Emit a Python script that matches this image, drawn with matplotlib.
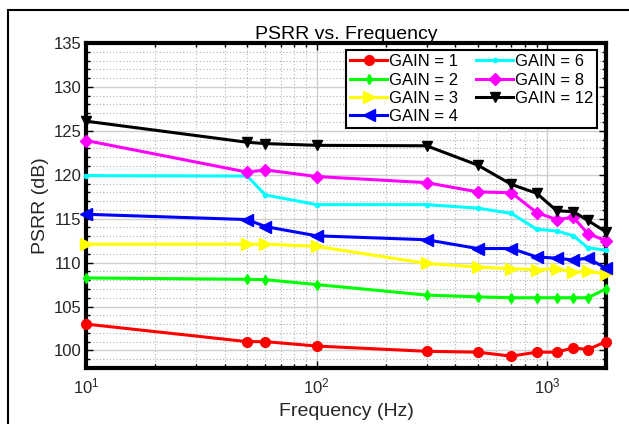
import matplotlib
matplotlib.use("Agg")
import matplotlib.pyplot as plt
from matplotlib.patches import Rectangle
from matplotlib.ticker import MultipleLocator, LogLocator, NullFormatter

plt.rcParams["font.family"] = ["Liberation Sans", "DejaVu Sans"]
plt.rcParams["mathtext.fontset"] = "custom"
plt.rcParams["mathtext.rm"] = "Liberation Sans"
plt.rcParams["mathtext.it"] = "Liberation Sans"
plt.rcParams["mathtext.default"] = "regular"

freq = [10, 50, 60, 100, 300, 500, 700, 900, 1100, 1300, 1500, 1800]

gain_1 = [103.0, 101.0, 101.0, 100.5, 99.9, 99.8, 99.35, 99.8, 99.8, 100.3, 100.1, 101.0]
gain_2 = [108.25, 108.1, 108.05, 107.5, 106.3, 106.1, 106.0, 106.0, 106.0, 106.0, 106.0, 107.0]
gain_3 = [112.1, 112.1, 112.1, 111.85, 109.9, 109.5, 109.3, 109.2, 109.3, 108.9, 109.0, 108.7]
gain_4 = [115.5, 114.9, 114.1, 113.05, 112.6, 111.6, 111.6, 110.65, 110.5, 110.3, 110.5, 109.35]
gain_6 = [119.9, 119.85, 117.7, 116.6, 116.6, 116.2, 115.6, 113.8, 113.6, 113.05, 111.7, 111.4]
gain_8 = [123.9, 120.3, 120.55, 119.8, 119.1, 118.05, 117.95, 115.7, 114.9, 115.15, 113.3, 112.5]
gain_12 = [126.1, 123.7, 123.55, 123.35, 123.3, 121.1, 118.9, 117.9, 115.9, 115.8, 114.8, 113.5]

labels = ["GAIN = 1", "GAIN = 2", "GAIN = 3", "GAIN = 4", "GAIN = 6", "GAIN = 8", "GAIN = 12"]
series = [gain_1, gain_2, gain_3, gain_4, gain_6, gain_8, gain_12]
colors = ["#ff0000", "#00ff00", "#ffff00", "#0000ff", "#00ffff", "#ff00ff", "#000000"]
markers = ["o", "d", ">", "<", ".", "D", "v"]
msizes = [7, 5, 8, 8, 6, 6, 7]

fig = plt.figure(figsize=(6.29, 4.24), dpi=100)
fig.patches.append(Rectangle((8 / 629, -0.01), 1.0, 1 - 10 / 424 + 0.01,
                             transform=fig.transFigure, fill=False,
                             edgecolor="black", linewidth=1.5))
ax = fig.add_axes([86 / 629, 1 - 368 / 424, 520 / 629, 325 / 424])

for y, lab, c, m, ms in zip(series, labels, colors, markers, msizes):
    ax.plot(freq, y, color=c, marker=m, markersize=ms, linewidth=2.2,
            markerfacecolor=c, markeredgecolor=c, label=lab, clip_on=False, zorder=3)

ax.set_xscale("log")
ax.set_xlim(10, 1800)
ax.set_ylim(98, 135)
ax.yaxis.set_major_locator(MultipleLocator(5))
ax.yaxis.set_minor_locator(MultipleLocator(1))
ax.xaxis.set_minor_locator(LogLocator(base=10, subs=range(2, 10)))
ax.xaxis.set_minor_formatter(NullFormatter())

ax.grid(True, which="major", color="#d0d0d0", linewidth=1.0, linestyle="-")
ax.grid(True, which="minor", color="#b0b0b0", linewidth=0.8, linestyle=(0, (1, 2)))
ax.set_axisbelow(True)

for s in ax.spines.values():
    s.set_linewidth(3)
    s.set_color("black")
    s.set_zorder(2.5)
ax.tick_params(which="both", direction="in", top=True, right=True,
               colors="black", labelcolor="#262626", labelsize=12)
ax.tick_params(which="major", length=5, width=1)
ax.tick_params(which="minor", length=3, width=1)
ax.tick_params(axis="x", pad=6)

ax.set_xlabel("Frequency (Hz)", fontsize=14, color="#262626", labelpad=5)
ax.set_ylabel("PSRR (dB)", fontsize=14, color="#262626", labelpad=3)
ax.set_title("PSRR vs. Frequency", fontsize=14, color="black", pad=2)

leg = ax.legend(ncol=2, loc="upper right", fontsize=12, frameon=True, fancybox=False,
                edgecolor="black", framealpha=1, handlelength=2.2, handletextpad=0.1,
                labelspacing=0.2, columnspacing=1.1, borderpad=0.25, borderaxespad=0,
                bbox_to_anchor=(0.983, 0.978))
leg.get_frame().set_linewidth(1.5)
leg.set_zorder(5)

fig.savefig("out.png", dpi=100)
